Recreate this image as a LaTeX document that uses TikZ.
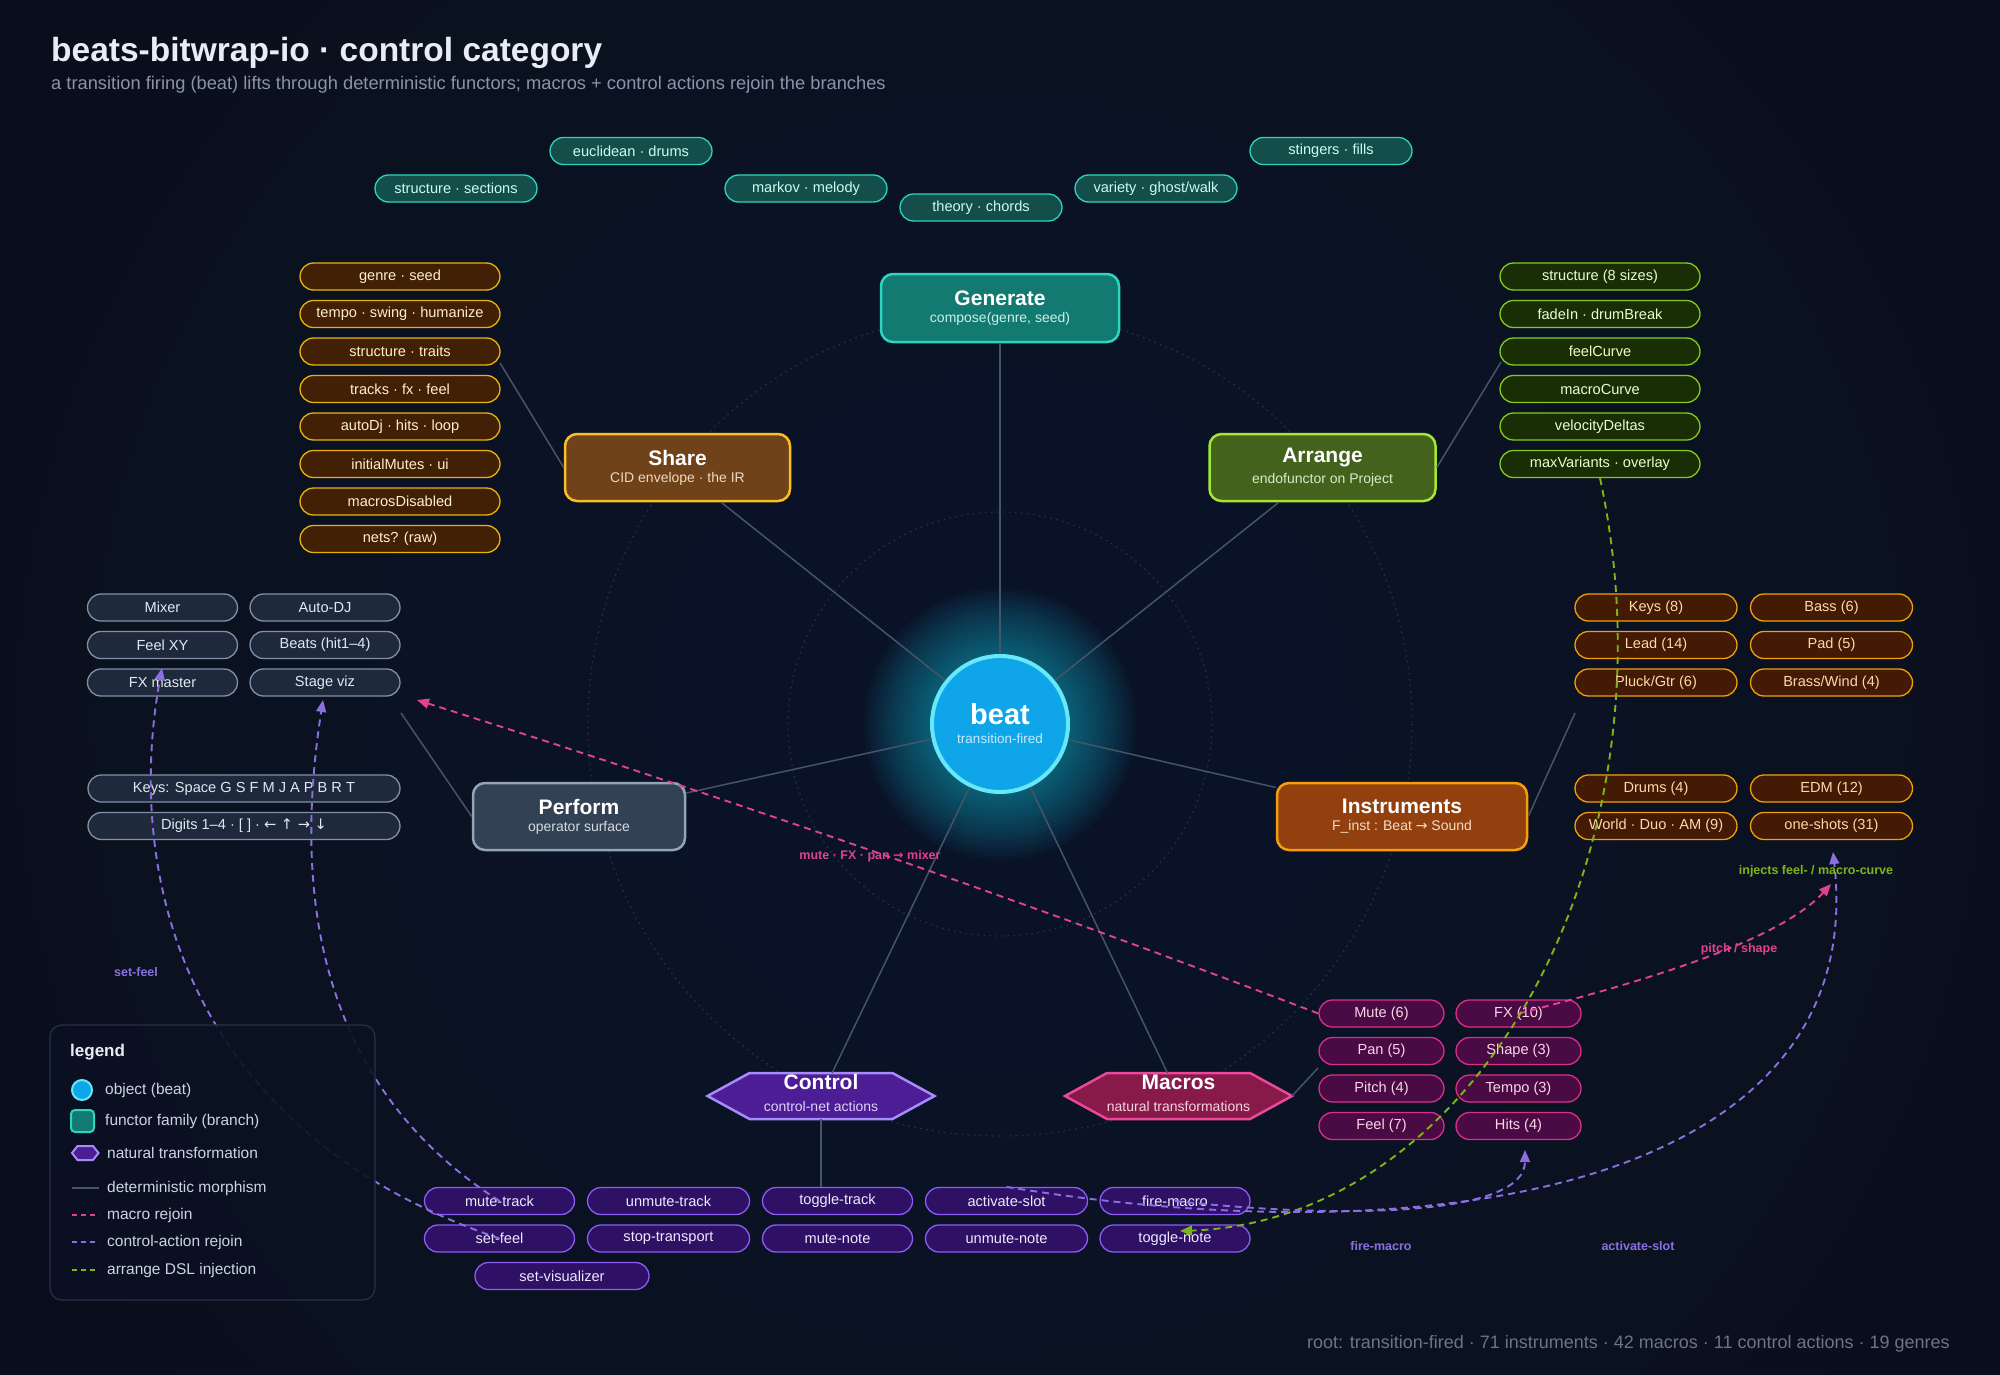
\documentclass[tikz,border=0pt]{standalone}
\usepackage{fontspec}
\setmainfont{Liberation Sans}
\newfontfamily\symf{DejaVu Sans}
\usetikzlibrary{arrows.meta}
\definecolor{bg}{HTML}{0A0E1C}
\definecolor{bglift}{HTML}{1A2542}
\definecolor{ringc}{HTML}{263247}
\definecolor{morphc}{HTML}{465468}
\definecolor{titlec}{HTML}{E8ECF4}
\definecolor{subc}{HTML}{8A93A8}
\definecolor{footc}{HTML}{6B7489}
\definecolor{beatF}{HTML}{0EA5E9}
\definecolor{beatD}{HTML}{67E8F9}
\definecolor{beatS}{HTML}{C4ECFC}
\definecolor{glowc}{HTML}{22D3EE}
\definecolor{genF}{HTML}{127A70}
\definecolor{genD}{HTML}{2DD4BF}
\definecolor{genS}{HTML}{C9F1EA}
\definecolor{shrF}{HTML}{70421A}
\definecolor{shrD}{HTML}{FBBF24}
\definecolor{shrS}{HTML}{EBD9C0}
\definecolor{arrF}{HTML}{43621C}
\definecolor{arrD}{HTML}{A3E635}
\definecolor{arrS}{HTML}{DDEBC8}
\definecolor{prfF}{HTML}{334155}
\definecolor{prfD}{HTML}{94A3B8}
\definecolor{prfS}{HTML}{D4DAE3}
\definecolor{insF}{HTML}{92400E}
\definecolor{insD}{HTML}{F59E0B}
\definecolor{insS}{HTML}{F6DCC6}
\definecolor{ctlF}{HTML}{4C1D95}
\definecolor{ctlD}{HTML}{A78BFA}
\definecolor{ctlS}{HTML}{DCD3F7}
\definecolor{macF}{HTML}{881A4A}
\definecolor{macD}{HTML}{EC4899}
\definecolor{macS}{HTML}{F6D3E3}
\definecolor{gchF}{HTML}{134E4A}
\definecolor{gchD}{HTML}{2DD4BF}
\definecolor{gchT}{HTML}{CCFBF1}
\definecolor{schF}{HTML}{422006}
\definecolor{schD}{HTML}{EAB308}
\definecolor{schT}{HTML}{FDEFC7}
\definecolor{achF}{HTML}{1A2E05}
\definecolor{achD}{HTML}{84CC16}
\definecolor{achT}{HTML}{ECFCCB}
\definecolor{pchF}{HTML}{1E293B}
\definecolor{pchD}{HTML}{8291A6}
\definecolor{pchT}{HTML}{E2E8F0}
\definecolor{ichF}{HTML}{431A03}
\definecolor{ichD}{HTML}{F59E0B}
\definecolor{ichT}{HTML}{FED7AA}
\definecolor{mchF}{HTML}{4A0A44}
\definecolor{mchD}{HTML}{DB2F87}
\definecolor{mchT}{HTML}{FBD5EA}
\definecolor{cchF}{HTML}{2E1065}
\definecolor{cchD}{HTML}{8B5CF6}
\definecolor{cchT}{HTML}{EDE9FE}
\definecolor{pinkc}{HTML}{E0428F}
\definecolor{purpc}{HTML}{8B6FE0}
\definecolor{greenc}{HTML}{7CB518}
\definecolor{legF}{HTML}{0B1122}
\definecolor{legD}{HTML}{273246}
\definecolor{legT}{HTML}{CBD5E1}
\newcommand\bxt[3]{{\fontsize{21}{23}\selectfont\bfseries #1}\\[5pt]{\fontsize{14}{16}\selectfont\color{#3}#2}}
\tikzset{
  chip/.style={rounded corners=13.5pt, minimum height=27pt, inner sep=0pt, line width=1.3pt, font=\fontsize{14.6}{16}\selectfont},
  gchip/.style={chip, minimum width=162pt, fill=gchF, draw=gchD, text=gchT},
  schip/.style={chip, minimum width=200pt, fill=schF, draw=schD, text=schT},
  achip/.style={chip, minimum width=200pt, fill=achF, draw=achD, text=achT},
  pchip/.style={chip, minimum width=150pt, fill=pchF, draw=pchD, text=pchT},
  ichip/.style={chip, minimum width=162pt, fill=ichF, draw=ichD, text=ichT},
  mchip/.style={chip, minimum width=125pt, fill=mchF, draw=mchD, text=mchT},
  cchip/.style={chip, minimum width=150pt, fill=cchF, draw=cchD, text=cchT},
  branch/.style={rounded corners=12pt, line width=2.5pt, inner sep=0pt, align=center, text=white},
  hexbox/.style={inner sep=0pt, outer sep=0pt, minimum width=227pt, minimum height=46pt},
  hexline/.style={line width=2.5pt, line join=miter},
  morph/.style={draw=morphc, line width=1.5pt},
  ring/.style={draw=ringc, line width=1.3pt, dash pattern=on 1.5pt off 4.5pt},
  rejoin/.style={line width=1.9pt, dash pattern=on 7pt off 5pt, -{Triangle[length=12pt,width=10pt]}},
  macroj/.style={rejoin, draw=pinkc},
  ctlj/.style={rejoin, draw=purpc},
  injj/.style={rejoin, draw=greenc},
  elabel/.style={font=\fontsize{12.5}{14}\selectfont\bfseries, inner sep=1pt},
  legtxt/.style={anchor=west, text=legT, font=\fontsize{15.5}{18}\selectfont, inner sep=0pt}
}
\begin{document}
\begin{tikzpicture}[x=1pt,y=-1pt]
\useasboundingbox (0,0) rectangle (2000,1375);
\fill[bg] (0,0) rectangle (2000,1375);
\foreach \r in {1050,980,...,350} \fill[bglift, opacity=0.05] (1000,724) circle (\r);
% rings
\draw[ring] (1000,724) circle (212);
\draw[ring] (1000,724) circle (412);
% glow
\foreach \r in {72,76,...,136} \fill[glowc, opacity=0.03] (1000,724) circle (\r);

% title
\node[anchor=base west, inner sep=0pt, text=titlec, font=\fontsize{33.5}{36}\selectfont\bfseries] (title) at (51,62) {beats-bitwrap-io · control category};
\node[anchor=base west, inner sep=0pt, text=subc, font=\fontsize{18.3}{20}\selectfont] (subtitle) at (51,90) {a transition firing (beat) lifts through deterministic functors; macros + control actions rejoin the branches};

% centre object
\node[circle, minimum size=136pt, inner sep=0pt, fill=beatF, draw=beatD, line width=4pt, align=center, text=white] (beat) at (1000,724) {{\fontsize{29}{31}\selectfont\bfseries beat}\\[7pt]{\fontsize{13.5}{15}\selectfont\color{beatS}transition-fired}};

% branch boxes
\node[branch, fill=genF, draw=genD, minimum width=238pt, minimum height=68pt] (gen) at (1000,308) {\bxt{Generate}{compose(genre, seed)}{genS}};
\node[branch, fill=shrF, draw=shrD, minimum width=225pt, minimum height=67pt] (share) at (677.5,467.5) {\bxt{Share}{CID envelope · the IR}{shrS}};
\node[branch, fill=arrF, draw=arrD, minimum width=226pt, minimum height=67pt] (arr) at (1322.5,467.5) {\bxt{Arrange}{endofunctor on Project}{arrS}};
\node[branch, fill=prfF, draw=prfD, minimum width=212pt, minimum height=67pt] (perf) at (579,816.5) {\bxt{Perform}{operator surface}{prfS}};
\node[branch, fill=insF, draw=insD, minimum width=250pt, minimum height=67pt] (inst) at (1402,816.5) {\bxt{Instruments}{F\_inst : Beat {\symf →} Sound}{insS}};

% hexagons
\node[hexbox] (ctrl) at (821,1096) {};
\draw[hexline, draw=ctlD, fill=ctlF] (ctrl.west) -- ([xshift=42pt]ctrl.north west) -- ([xshift=-42pt]ctrl.north east) -- (ctrl.east) -- ([xshift=-42pt]ctrl.south east) -- ([xshift=42pt]ctrl.south west) -- cycle;
\node[text=white, font=\fontsize{21}{23}\selectfont\bfseries, inner sep=0pt] (ctrlT) at ([yshift=14pt]ctrl.center) {Control};
\node[text=ctlS, font=\fontsize{14}{16}\selectfont, inner sep=0pt] (ctrlS) at ([yshift=-10pt]ctrl.center) {control-net actions};
\node[hexbox] (mac) at (1178.5,1096) {};
\draw[hexline, draw=macD, fill=macF] (mac.west) -- ([xshift=42pt]mac.north west) -- ([xshift=-42pt]mac.north east) -- (mac.east) -- ([xshift=-42pt]mac.south east) -- ([xshift=42pt]mac.south west) -- cycle;
\node[text=white, font=\fontsize{21}{23}\selectfont\bfseries, inner sep=0pt] (macT) at ([yshift=14pt]mac.center) {Macros};
\node[text=macS, font=\fontsize{14}{16}\selectfont, inner sep=0pt] (macS) at ([yshift=-10pt]mac.center) {natural transformations};

% spokes
\draw[morph] (beat) -- (gen);
\draw[morph] (beat) -- (share);
\draw[morph] (beat) -- (arr);
\draw[morph] (beat) -- (perf);
\draw[morph] (beat) -- (inst);
\draw[morph] (beat) -- (ctrl);
\draw[morph] (beat) -- (mac);

% generate chips
\node[gchip] (g1) at (631,151) {euclidean · drums};
\node[gchip] (g2) at (456,188.5) {structure · sections};
\node[gchip] (g3) at (806,188.5) {markov · melody};
\node[gchip] (g4) at (981,207.5) {theory · chords};
\node[gchip] (g5) at (1156,188.5) {variety · ghost/walk};
\node[gchip] (g6) at (1331,151) {stingers · fills};

% share chips
\node[schip] (s1) at (400,276.5) {genre · seed};
\node[schip] (s2) at (400,314) {tempo · swing · humanize};
\node[schip] (s3) at (400,351.5) {structure · traits};
\node[schip] (s4) at (400,389) {tracks · fx · feel};
\node[schip] (s5) at (400,426.5) {autoDj · hits · loop};
\node[schip] (s6) at (400,464) {initialMutes · ui};
\node[schip] (s7) at (400,501.5) {macrosDisabled};
\node[schip] (s8) at (400,539) {nets? (raw)};

% arrange chips
\node[achip] (a1) at (1600,276.5) {structure (8 sizes)};
\node[achip] (a2) at (1600,314) {fadeIn · drumBreak};
\node[achip] (a3) at (1600,351.5) {feelCurve};
\node[achip] (a4) at (1600,389) {macroCurve};
\node[achip] (a5) at (1600,426.5) {velocityDeltas};
\node[achip] (maxv) at (1600,464) {maxVariants · overlay};

% perform chips
\node[pchip] (mixer) at (162.5,607.5) {Mixer};
\node[pchip] (autodj) at (325,607.5) {Auto-DJ};
\node[pchip] (feelxy) at (162.5,645) {Feel XY};
\node[pchip] (beats) at (325,645) {Beats (hit1–4)};
\node[pchip] (fxm) at (162.5,682.5) {FX master};
\node[pchip] (sviz) at (325,682.5) {Stage viz};
\node[pchip, minimum width=312pt] (keys) at (244,788.5) {Keys: Space G S F M J A P B R T};
\node[pchip, minimum width=312pt] (digits) at (244,826) {Digits 1–4 · [ ] · {\symf ← ↑ → ↓}};

% instrument chips
\node[ichip] (i1) at (1656,607.5) {Keys (8)};
\node[ichip] (i2) at (1831.5,607.5) {Bass (6)};
\node[ichip] (i3) at (1656,645) {Lead (14)};
\node[ichip] (i4) at (1831.5,645) {Pad (5)};
\node[ichip] (i5) at (1656,682.5) {Pluck/Gtr (6)};
\node[ichip] (i6) at (1831.5,682.5) {Brass/Wind (4)};
\node[ichip] (i7) at (1656,788.5) {Drums (4)};
\node[ichip] (i8) at (1831.5,788.5) {EDM (12)};
\node[ichip] (i9) at (1656,826) {World · Duo · AM (9)};
\node[ichip] (oneshots) at (1831.5,826) {one-shots (31)};

% macro chips
\node[mchip] (mute) at (1381.5,1013.5) {Mute (6)};
\node[mchip] (fx) at (1518.5,1013.5) {FX (10)};
\node[mchip] (pan) at (1381.5,1051) {Pan (5)};
\node[mchip] (shape) at (1518.5,1051) {Shape (3)};
\node[mchip] (pitch) at (1381.5,1088.5) {Pitch (4)};
\node[mchip] (tempo) at (1518.5,1088.5) {Tempo (3)};
\node[mchip] (feel) at (1381.5,1126) {Feel (7)};
\node[mchip] (hits) at (1518.5,1126) {Hits (4)};

% control chips
\node[cchip] (mtrack) at (499.5,1201) {mute-track};
\node[cchip, minimum width=162pt] (utrack) at (668.5,1201) {unmute-track};
\node[cchip] (ttrack) at (837.5,1201) {toggle-track};
\node[cchip, minimum width=162pt] (aslot) at (1006.5,1201) {activate-slot};
\node[cchip] (fmacro) at (1175,1201) {fire-macro};
\node[cchip] (sfeel) at (499.5,1238.5) {set-feel};
\node[cchip, minimum width=162pt] (stopt) at (668.5,1238.5) {stop-transport};
\node[cchip] (mnote) at (837.5,1238.5) {mute-note};
\node[cchip, minimum width=162pt] (unote) at (1006.5,1238.5) {unmute-note};
\node[cchip] (tnote) at (1175,1238.5) {toggle-note};
\node[cchip, minimum width=174pt] (svis) at (562,1276) {set-visualizer};

% branch-to-chip morphisms
\coordinate (shareEnd) at (500,363);
\coordinate (arrEnd) at (1501,362);
\coordinate (perfEnd) at (401,713);
\coordinate (instEnd) at (1575,713);
\coordinate (ctrlEnd) at (821,1187);
\coordinate (macEnd) at (1318,1068);
\draw[morph] (share.west) -- (shareEnd);
\draw[morph] (arr.east) -- (arrEnd);
\draw[morph] (perf.west) -- (perfEnd);
\draw[morph] (inst.east) -- (instEnd);
\draw[morph] (ctrl.south) -- (ctrlEnd);
\draw[morph] (mac.east) -- (macEnd);

% rejoin curves
\coordinate (svizR) at (417,700);
\coordinate (svizTip) at (323,700);
\coordinate (feelTip) at (162,668);
\coordinate (oneTip) at (1833,852);
\coordinate (oneTip2) at (1831,884);
\coordinate (hitsTip) at (1525,1150);
\coordinate (tnoteTip) at (1180,1231);
\draw[macroj] (mute.west) .. controls (1018,899) and (718,795) .. (svizR);
\draw[macroj] (fx.center) .. controls (1650,980) and (1780,940) .. (oneTip2);
\draw[injj] (maxv.south) .. controls (1680,850) and (1480,1220) .. (tnoteTip);
\draw[ctlj] (sfeel.center) .. controls (180,1130) and (125,870) .. (feelTip);
\draw[ctlj] (mtrack.center) .. controls (310,1080) and (295,880) .. (svizTip);
\draw[ctlj] (aslot.north) .. controls (1450,1260) and (1870,1180) .. (oneTip);
\draw[ctlj] (fmacro.center) .. controls (1350,1220) and (1525,1215) .. (hitsTip);

% edge labels
\node[elabel, text=pinkc] (lblMix) at (870,856) {mute · FX · pan {\symf →} mixer};
\node[elabel, text=pinkc] (lblPitch) at (1739,949) {pitch / shape};
\node[elabel, text=greenc] (lblInj) at (1816,871) {injects feel- / macro-curve};
\node[elabel, text=purpc] (lblSetFeel) at (136,972) {set-feel};
\node[elabel, text=purpc] (lblFire) at (1381,1246) {fire-macro};
\node[elabel, text=purpc] (lblAct) at (1638,1246) {activate-slot};

% legend
\node[draw=legD, fill=legF, fill opacity=0.9, line width=1.2pt, rounded corners=12pt, minimum width=325pt, minimum height=275pt, inner sep=0pt] (legend) at (212.5,1162.5) {};
\node[anchor=west, text=titlec, font=\fontsize{17}{19}\selectfont\bfseries, inner sep=0pt] (legTitle) at (70,1052) {legend};
\draw[fill=beatF, draw=beatD, line width=2pt] (82,1090) circle (10);
\node[legtxt] (leg1) at (105,1090) {object (beat)};
\draw[fill=genF, draw=genD, line width=2pt, rounded corners=4pt] (71,1110) rectangle (94,1132);
\node[legtxt] (leg2) at (105,1121) {functor family (branch)};
\draw[fill=ctlF, draw=ctlD, line width=2pt, line join=miter] (72,1153) -- (77.5,1146) -- (93,1146) -- (98.5,1153) -- (93,1160) -- (77.5,1160) -- cycle;
\node[legtxt] (leg3) at (107,1153) {natural transformation};
\draw[morph] (72,1188) -- (99,1188);
\node[legtxt] (leg4) at (107,1188) {deterministic morphism};
\draw[draw=pinkc, line width=2pt, dash pattern=on 5pt off 4pt] (72,1215) -- (99,1215);
\node[legtxt] (leg5) at (107,1215) {macro rejoin};
\draw[draw=purpc, line width=2pt, dash pattern=on 5pt off 4pt] (72,1242) -- (99,1242);
\node[legtxt] (leg6) at (107,1242) {control-action rejoin};
\draw[draw=greenc, line width=2pt, dash pattern=on 5pt off 4pt] (72,1270) -- (99,1270);
\node[legtxt] (leg7) at (107,1270) {arrange DSL injection};

% footer
\node[anchor=east, inner sep=0pt, text=footc, font=\fontsize{18}{20}\selectfont] (footer) at (1950,1344) {root: transition-fired · 71 instruments · 42 macros · 11 control actions · 19 genres};
\end{tikzpicture}
\end{document}
